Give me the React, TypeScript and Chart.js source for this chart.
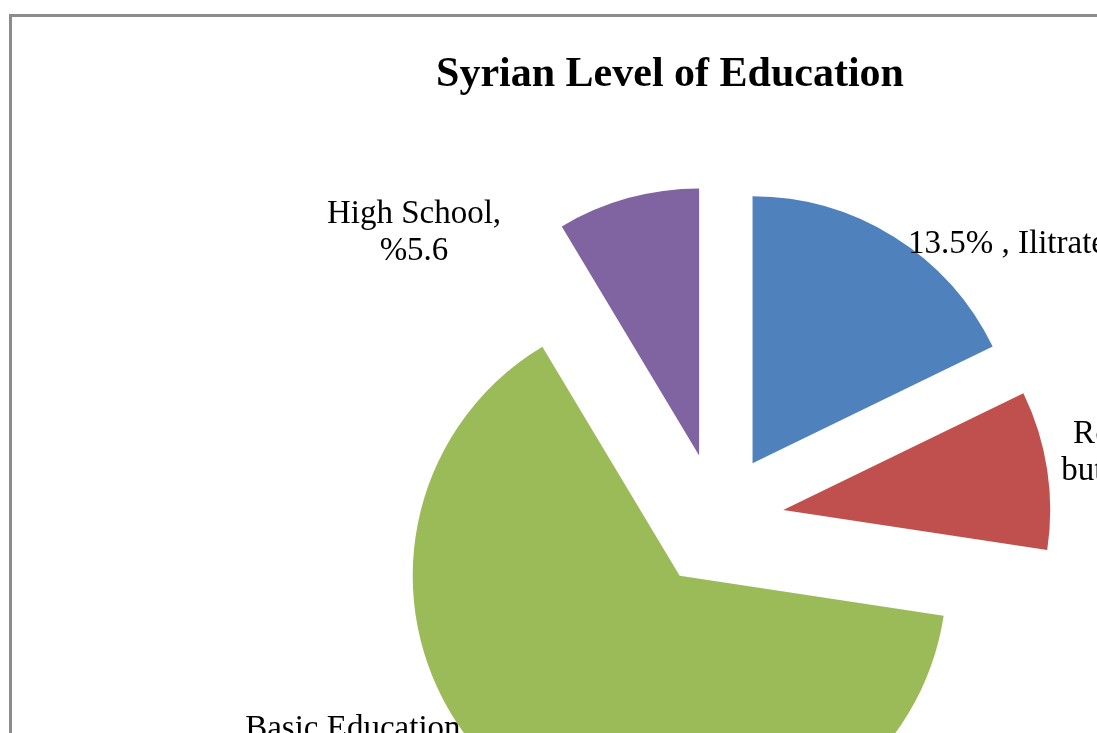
import React, { useEffect, useRef } from "react";
import { Chart, registerables } from "chart.js";

Chart.register(...registerables);

// ---- data ----
const categories = ["Ilitrate", "Read and write but no certificate", "Basic Education", "High School"];
const shares = [17.8, 9.6, 64.0, 8.6];
const labelLines = [
  ["13.5% , Ilitrate"],
  ["Read and write", "but no certificate", "%8.9"],
  ["Basic Education,", "%64.0"],
  ["High School,", "%5.6"],
];
const sliceColors = ["#4F81BD", "#C0504D", "#9BBB59", "#8064A2"];
const chartTitle = "Syrian Level of Education";

// ---- layout / style ----
const SERIF = '"Liberation Serif", "Times New Roman", serif';
const EXPLODE = 67;
const RADIUS = 267;
const LABEL_FONT = 33;
const LABEL_LINE = 37;
// label anchor (centre of first line's baseline) relative to pie centre
const labelDx = [290, 456, -360, -303];
const labelDy = [-267, -77, 218, -297];

const explodePlugin = {
  id: "explode",
  beforeDatasetsDraw(chart: any) {
    const ctx = chart.ctx;
    const meta = chart.getDatasetMeta(0);
    meta.data.forEach((arc: any) => {
      const mid = (arc.startAngle + arc.endAngle) / 2;
      ctx.save();
      ctx.translate(Math.cos(mid) * EXPLODE, Math.sin(mid) * EXPLODE);
      arc.draw(ctx);
      ctx.restore();
    });
    return false;
  },
};

// centre the title over the whole frame rather than over the padded plot area
const titleSpanPlugin = {
  id: "titleSpan",
  afterLayout(chart: any) {
    const tb = chart.titleBlock;
    if (tb) {
      tb.left = 0;
      tb.right = chart.width;
      tb.width = chart.width;
    }
  },
};

const labelPlugin = {
  id: "sliceLabels",
  afterDraw(chart: any) {
    const ctx = chart.ctx;
    const meta = chart.getDatasetMeta(0);
    ctx.save();
    ctx.font = `${LABEL_FONT}px ${SERIF}`;
    ctx.fillStyle = "#000";
    ctx.textAlign = "center";
    ctx.textBaseline = "alphabetic";
    meta.data.forEach((arc: any, i: number) => {
      const cx = arc.x + labelDx[i];
      const cy = arc.y + labelDy[i];
      labelLines[i].forEach((line, j) => {
        ctx.fillText(line, cx, cy + j * LABEL_LINE);
      });
    });
    ctx.restore();
  },
};

export default function App() {
  const ref = useRef<HTMLCanvasElement | null>(null);
  useEffect(() => {
    if (!ref.current) return;
    const chart = new Chart(ref.current, {
      type: "pie",
      data: {
        labels: categories,
        datasets: [
          {
            data: shares,
            backgroundColor: sliceColors,
            borderWidth: 0,
            radius: RADIUS,
          } as any,
        ],
      },
      options: {
        responsive: false,
        animation: false,
        events: [],
        layout: { padding: { left: 94, right: 0, top: 0, bottom: 87.4 } },
        plugins: {
          legend: { display: false },
          tooltip: { enabled: false },
          title: {
            display: true,
            text: chartTitle,
            color: "#000",
            font: { family: SERIF, size: 42, weight: "bold" },
            padding: { top: 33, bottom: 10 },
          },
        },
      } as any,
      plugins: [explodePlugin, titleSpanPlugin, labelPlugin],
    });
    return () => chart.destroy();
  }, []);

  return (
    <div style={{ position: "fixed", inset: 0, overflow: "hidden", background: "#fff" }}>
      <div
        style={{
          position: "absolute",
          left: 9,
          top: 14,
          width: 1316,
          height: 1000,
          border: "3px solid #8c8c8c",
          background: "#fff",
        }}
      >
        <canvas ref={ref} width={1316} height={1000} style={{ display: "block" }} />
      </div>
    </div>
  );
}
